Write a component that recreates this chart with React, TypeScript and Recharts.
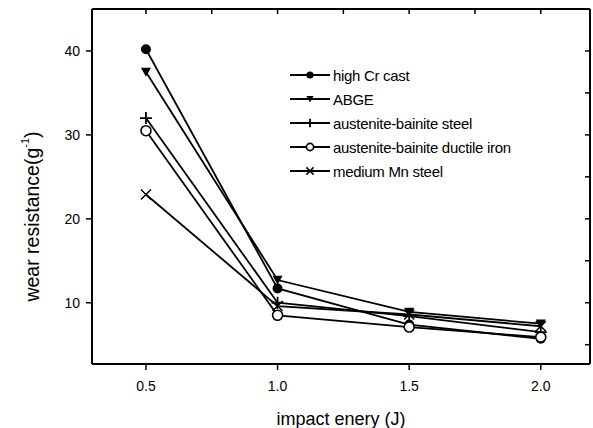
import { LineChart, Line, XAxis, YAxis } from 'recharts';

const energy = [0.5, 1.0, 1.5, 2.0];
const highCr = [40.2, 11.7, 7.4, 5.7];
const abge = [37.5, 12.7, 8.9, 7.5];
const abSteel = [32.0, 10.0, 8.4, 6.5];
const abDuctile = [30.5, 8.5, 7.1, 5.9];
const mediumMn = [22.9, 9.6, 8.6, 7.2];

const seriesNames = [
  'high Cr cast',
  'ABGE',
  'austenite-bainite steel',
  'austenite-bainite ductile iron',
  'medium Mn steel',
];
const seriesKeys = ['highCr', 'abge', 'abSteel', 'abDuctile', 'mediumMn'];
const seriesShapes = ['dot', 'tri', 'plus', 'open', 'cross'];

const xMajor = [0.5, 1.0, 1.5, 2.0];
const xMinor = [0.75, 1.25, 1.75];
const yMajor = [10, 20, 30, 40];
const yMinor = [5, 15, 25, 35];

const data = energy.map((x, i) => ({
  x,
  highCr: highCr[i],
  abge: abge[i],
  abSteel: abSteel[i],
  abDuctile: abDuctile[i],
  mediumMn: mediumMn[i],
}));

const xDomain = [0.295, 2.187];
const yDomain = [2.7, 45];

const FONT = '"Liberation Sans", Arial, sans-serif';
const frame = { stroke: '#000', strokeWidth: 2 };
const tickStroke = { stroke: '#000', strokeWidth: 1.5 };

const Marker = ({ shape, cx, cy, s }: { shape: string; cx: number; cy: number; s: number }) => {
  switch (shape) {
    case 'dot':
      return <circle cx={cx} cy={cy} r={s} fill="#000" />;
    case 'tri':
      return (
        <path
          d={`M${cx - s},${cy - s * 0.85} L${cx + s},${cy - s * 0.85} L${cx},${cy + s * 0.95} Z`}
          fill="#000"
        />
      );
    case 'plus':
      return (
        <path
          d={`M${cx - s * 1.2},${cy} H${cx + s * 1.2} M${cx},${cy - s * 1.2} V${cy + s * 1.2}`}
          stroke="#000"
          strokeWidth={1.8}
          fill="none"
        />
      );
    case 'open':
      return <circle cx={cx} cy={cy} r={s} fill="#fff" stroke="#000" strokeWidth={1.6} />;
    default:
      return (
        <path
          d={`M${cx - s},${cy - s} L${cx + s},${cy + s} M${cx - s},${cy + s} L${cx + s},${cy - s}`}
          stroke="#000"
          strokeWidth={1.5}
          fill="none"
        />
      );
  }
};

const YTitle = ({ viewBox }: any) => {
  const cx = 32;
  const cy = viewBox.y + viewBox.height / 2 + 30;
  return (
    <text
      x={cx}
      y={cy}
      transform={`rotate(-90 ${cx} ${cy})`}
      textAnchor="middle"
      dominantBaseline="central"
      fontSize={19.5}
      fill="#000"
    >
      wear resistance(g
      <tspan dy={-7} fontSize={11}>-1</tspan>
      <tspan dy={7}>)</tspan>
    </text>
  );
};

const LegendBox = () => (
  <div style={{ position: 'absolute', left: 288, top: 63, fontFamily: FONT }}>
    {seriesNames.map((name, i) => (
      <div key={name} style={{ display: 'flex', alignItems: 'center', height: 24 }}>
        <svg width={44} height={14}>
          <line x1={2} x2={42} y1={7} y2={7} stroke="#000" strokeWidth={1.8} />
          <Marker shape={seriesShapes[i]} cx={22} cy={7} s={3.6} />
        </svg>
        <span style={{ fontSize: 15, marginLeft: 1, letterSpacing: -0.3, color: '#000', whiteSpace: 'nowrap' }}>
          {name}
        </span>
      </div>
    ))}
  </div>
);

// shared props for the frame axes
const xBase = { dataKey: 'x', type: 'number' as const, domain: xDomain, allowDataOverflow: true, interval: 0 };
const yBase = { type: 'number' as const, domain: yDomain, allowDataOverflow: true, interval: 0 };

export default function App() {
  return (
    <div style={{ position: 'absolute', left: 0, top: 0, width: 593, height: 428, background: '#fff', fontFamily: FONT }}>
      <LineChart width={593} height={428} data={data} margin={{ top: 9, right: 3, left: 0, bottom: 0 }}>
        {/* minor ticks first so they sit right on the frame */}
        <XAxis
          {...xBase}
          xAxisId="bm"
          ticks={xMinor}
          tickSize={3.5}
          tickLine={tickStroke}
          tickFormatter={() => ''}
          axisLine={false}
          height={0}
        />
        <XAxis
          {...xBase}
          xAxisId="b"
          ticks={xMajor}
          tickSize={6}
          tickMargin={11}
          tickLine={tickStroke}
          tick={{ fill: '#000', fontSize: 14 }}
          tickFormatter={(v: number) => v.toFixed(1)}
          axisLine={frame}
          height={64}
          label={{ value: 'impact enery (J)', position: 'insideBottom', offset: 3, fontSize: 18, fill: '#000' }}
        />
        <XAxis
          {...xBase}
          xAxisId="t"
          orientation="top"
          ticks={[...xMajor, ...xMinor]}
          mirror
          tickSize={5}
          tickLine={tickStroke}
          tickFormatter={() => ''}
          axisLine={frame}
          height={1}
        />
        <YAxis
          {...yBase}
          yAxisId="lm"
          ticks={yMinor}
          tickSize={3.5}
          tickLine={tickStroke}
          tickFormatter={() => ''}
          axisLine={false}
          width={0}
        />
        <YAxis
          {...yBase}
          yAxisId="l"
          ticks={yMajor}
          tickSize={6}
          tickMargin={6}
          tickLine={tickStroke}
          tick={{ fill: '#000', fontSize: 14 }}
          axisLine={frame}
          width={92}
          label={YTitle}
        />
        <YAxis
          {...yBase}
          yAxisId="r"
          orientation="right"
          ticks={[...yMajor, ...yMinor]}
          mirror
          tickSize={5}
          tickLine={tickStroke}
          tickFormatter={() => ''}
          axisLine={frame}
          width={1}
        />
        {seriesKeys.map((key, i) => (
          <Line
            key={key}
            xAxisId="b"
            yAxisId="l"
            dataKey={key}
            name={seriesNames[i]}
            stroke="#000"
            strokeWidth={1.8}
            isAnimationActive={false}
            dot={(p: any) => (
              <Marker key={`${key}-${p.index}`} shape={seriesShapes[i]} cx={p.cx} cy={p.cy} s={5} />
            )}
            activeDot={false}
          />
        ))}
        {/* invisible copies so the frame-only axes have data bound to them */}
        <Line xAxisId="t" yAxisId="r" dataKey="highCr" stroke="none" dot={false} activeDot={false} legendType="none" isAnimationActive={false} />
        <Line xAxisId="bm" yAxisId="lm" dataKey="highCr" stroke="none" dot={false} activeDot={false} legendType="none" isAnimationActive={false} />
      </LineChart>
      <LegendBox />
    </div>
  );
}
